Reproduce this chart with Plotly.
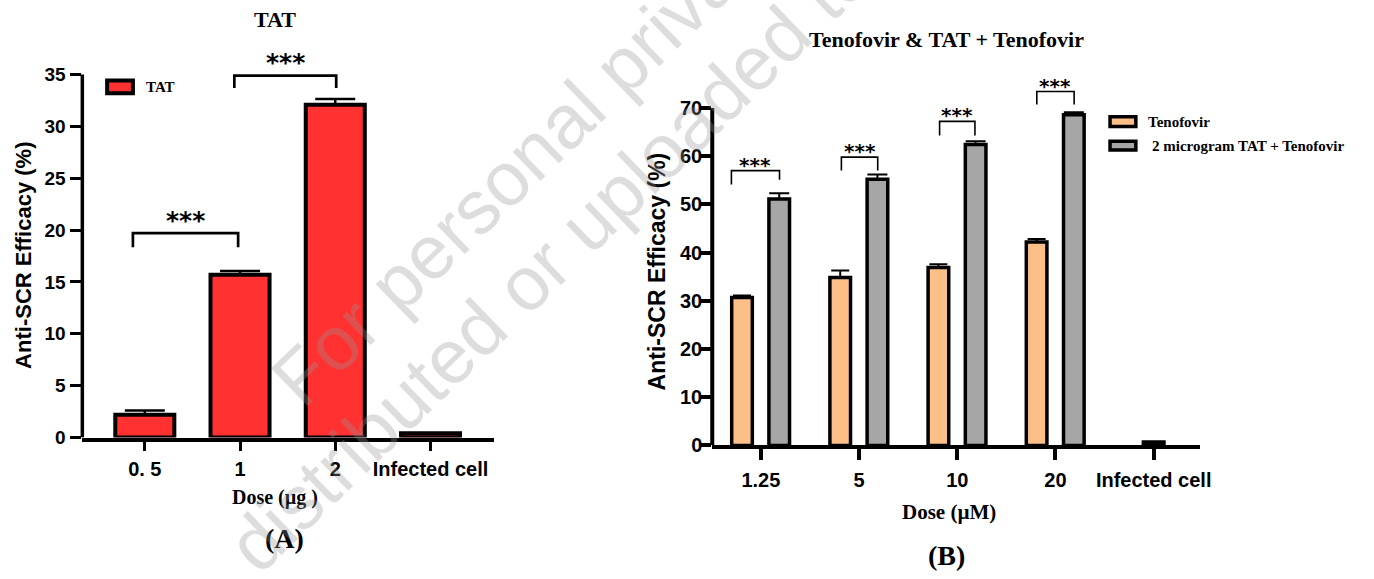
import plotly.graph_objects as go

W, H = 1374, 579

# ---------------- Panel A data ----------------
tat_doses = ["0. 5", "1", "2", "Infected cell"]
tat_efficacy = [2.2, 15.7, 32.1, 0.4]
tat_err = [0.4, 0.35, 0.55, 0.0]
a_yticks = [0, 5, 10, 15, 20, 25, 30, 35]

# ---------------- Panel B data ----------------
teno_doses = ["1.25", "5", "10", "20"]
teno_efficacy = [30.7, 34.8, 36.9, 42.2]
teno_err = [0.4, 1.5, 0.65, 0.6]
combo_efficacy = [51.1, 55.2, 62.4, 68.6]
combo_err = [1.2, 1.0, 0.7, 0.5]
infected_label = ["Infected cell"]
infected_efficacy = [0.7]
b_categories = teno_doses + infected_label
b_yticks = [0, 10, 20, 30, 40, 50, 60, 70]

# significance brackets: (x_left, x_right, y_top, y_left_leg, y_right_leg)
sig_a = [(-0.125, 0.98, 19.7, 18.35, 18.35),
         (0.94, 2.01, 34.9, 33.7, 33.7)]
sig_b = [(-0.30, 0.19, 57.0, 54.1, 55.1),
         (0.82, 1.19, 59.8, 57.0, 57.0),
         (1.82, 2.18, 67.2, 64.3, 64.3),
         (2.81, 3.19, 73.4, 70.7, 70.7)]

RED = "#FF3131"
ORANGE = "#FDBF88"
GRAY = "#A6A6A6"
SANS = "Liberation Sans, Arial, sans-serif"
SERIF = "Liberation Serif, Times New Roman, serif"
STAR = "DejaVu Sans, sans-serif"


def px(x):
    return x / W


def py(y):
    return 1 - y / H


fig = go.Figure()

fig.add_trace(go.Bar(
    x=tat_doses, y=tat_efficacy, name="TAT", width=0.62,
    marker=dict(color=RED, line=dict(color="black", width=4)),
    error_y=dict(type="data", array=tat_err, arrayminus=[0] * len(tat_err),
                 symmetric=False, color="black", thickness=2.5, width=20),
    xaxis="x", yaxis="y", showlegend=False,
))
fig.add_trace(go.Bar(
    x=teno_doses, y=teno_efficacy, name="Tenofovir", width=0.21, offset=-0.297,
    marker=dict(color=ORANGE, line=dict(color="black", width=3.5)),
    error_y=dict(type="data", array=teno_err, arrayminus=[0] * 4,
                 symmetric=False, color="black", thickness=2, width=9),
    xaxis="x2", yaxis="y2", showlegend=False,
))
fig.add_trace(go.Bar(
    x=teno_doses, y=combo_efficacy, name="2 microgram TAT + Tenofovir",
    width=0.21, offset=0.082,
    marker=dict(color=GRAY, line=dict(color="black", width=3.5)),
    error_y=dict(type="data", array=combo_err, arrayminus=[0] * 4,
                 symmetric=False, color="black", thickness=2, width=10),
    xaxis="x2", yaxis="y2", showlegend=False,
))
fig.add_trace(go.Bar(
    x=infected_label, y=infected_efficacy, name="Infected cell",
    width=0.21, offset=-0.105,
    marker=dict(color="black", line=dict(color="black", width=3.5)),
    xaxis="x2", yaxis="y2", showlegend=False,
))

tickfont = dict(family=SANS, size=20, color="black", weight="bold")

fig.update_layout(
    width=W, height=H, autosize=False,
    margin=dict(l=0, r=0, t=0, b=0),
    paper_bgcolor="white", plot_bgcolor="white",
    barmode="overlay",
    xaxis=dict(domain=[px(83), px(498)], type="category",
               categoryorder="array", categoryarray=tat_doses,
               range=[-0.656, 3.667], showline=True, linecolor="black",
               linewidth=3.5, ticks="outside", ticklen=10, tickwidth=3,
               tickcolor="black", tickfont=tickfont, ticklabelstandoff=1,
               showgrid=False, zeroline=False, fixedrange=True),
    yaxis=dict(domain=[py(446), py(446 - 37 * 370 / 35)], range=[0, 37],
               tickvals=a_yticks, showline=False, ticks="outside",
               ticklen=11, tickwidth=3, tickcolor="black", ticklabelstandoff=1,
               tickfont=dict(family=SANS, size=19, color="black", weight="bold"),
               showgrid=False, zeroline=False, fixedrange=True),
    xaxis2=dict(domain=[px(718), px(1210)], type="category",
                categoryorder="array", categoryarray=b_categories,
                range=[-0.495, 4.475], showline=True, linecolor="black",
                linewidth=4, ticks="outside", ticklen=11, tickwidth=3.5,
                tickcolor="black", tickfont=tickfont, ticklabelstandoff=3,
                showgrid=False, zeroline=False, anchor="y2", fixedrange=True),
    yaxis2=dict(domain=[py(454), py(454 - 75 * 344 / 70)], range=[0, 75],
                tickvals=b_yticks, showline=False, ticks="outside",
                ticklen=11, tickwidth=3.5, tickcolor="black",
                ticklabelstandoff=-6,
                tickfont=tickfont, showgrid=False, zeroline=False,
                anchor="x2", fixedrange=True),
)

shapes = []
# y axis lines (stop at the top tick)
shapes.append(dict(type="line", xref="x domain", yref="y", x0=0, x1=0,
                   y0=0, y1=a_yticks[-1], line=dict(color="black", width=3.5)))
shapes.append(dict(type="line", xref="x2 domain", yref="y2", x0=0, x1=0,
                   y0=0, y1=b_yticks[-1], line=dict(color="black", width=4)))

annotations = []
# significance brackets
for (xl, xr, yt, yl, yr) in sig_a:
    shapes.append(dict(type="path", xref="x", yref="y",
                       path=f"M {xl},{yl} V {yt} H {xr} V {yr}",
                       line=dict(color="black", width=2.7)))
    annotations.append(dict(x=(xl + xr) / 2, y=yt, xref="x", yref="y",
                            text="***", showarrow=False,
                            yanchor="middle", yshift=13,
                            font=dict(family=STAR, size=25, color="black",
                                      weight="bold")))
for (xl, xr, yt, yl, yr) in sig_b:
    shapes.append(dict(type="path", xref="x2", yref="y2",
                       path=f"M {xl},{yl} V {yt} H {xr} V {yr}",
                       line=dict(color="black", width=1.6)))
    annotations.append(dict(x=(xl + xr) / 2, y=yt, xref="x2", yref="y2",
                            text="***", showarrow=False,
                            yanchor="middle", yshift=6,
                            font=dict(family=STAR, size=20, color="black",
                                      weight="bold")))

# legend swatches
shapes.append(dict(type="rect", xref="paper", yref="paper",
                   x0=px(108), x1=px(134), y0=py(95), y1=py(82),
                   fillcolor=RED, line=dict(color="black", width=4)))
shapes.append(dict(type="rect", xref="paper", yref="paper",
                   x0=px(1119), x1=px(1145), y0=py(129), y1=py(119),
                   fillcolor=ORANGE, line=dict(color="black", width=3.5)))
shapes.append(dict(type="rect", xref="paper", yref="paper",
                   x0=px(1119), x1=px(1145), y0=py(153), y1=py(144),
                   fillcolor=GRAY, line=dict(color="black", width=3.5)))

serif_b = lambda s: dict(family=SERIF, size=s, color="black", weight="bold")
sans_b = lambda s: dict(family=SANS, size=s, color="black", weight="bold")


def txt(text, x, y, font, xanchor="center", angle=0):
    annotations.append(dict(text=text, x=px(x), y=py(y), xref="paper",
                            yref="paper", showarrow=False, xanchor=xanchor,
                            yanchor="middle", font=font, textangle=angle))


txt("TAT", 145, 89, serif_b(15), xanchor="left")
txt("Tenofovir", 1155, 124, serif_b(15), xanchor="left")
txt("2 microgram TAT + Tenofovir", 1159, 149, serif_b(15), xanchor="left")

# titles and axis labels
txt("TAT", 277, 20, serif_b(22))
txt("Tenofovir &amp; TAT + Tenofovir", 954, 40, serif_b(22))
txt("Anti-SCR Efficacy (%)", 23, 260, sans_b(22), angle=-90)
txt("Anti-SCR Efficacy (%)", 662, 277, sans_b(23), angle=-90)
txt("Dose (µg )", 277, 507, serif_b(20))
txt("Dose (µM)", 957, 522, serif_b(21))
txt("(A)", 287, 549, serif_b(28))
txt("(B)", 954, 566, serif_b(28))

# watermark (runs off the image edges, as in the reference)
wm_font = dict(family=SANS, size=76, color="rgba(150,150,150,0.32)")
txt("For personal private", 532, 160, wm_font, angle=-44)
txt("distributed or uploaded to", 554, 265, wm_font, angle=-44)

fig.update_layout(shapes=shapes, annotations=annotations)

# fit the figure to the browser viewport with no page margin
fit_js = ("document.documentElement.style.margin='0';"
          "document.body.style.margin='0';"
          "document.body.style.overflow='hidden';"
          "var gd=document.getElementById('{plot_id}');"
          "Plotly.relayout(gd,{width:window.innerWidth,"
          "height:window.innerHeight});")
fig.write_html("out.html", config={"displayModeBar": False},
               post_script=fit_js)
